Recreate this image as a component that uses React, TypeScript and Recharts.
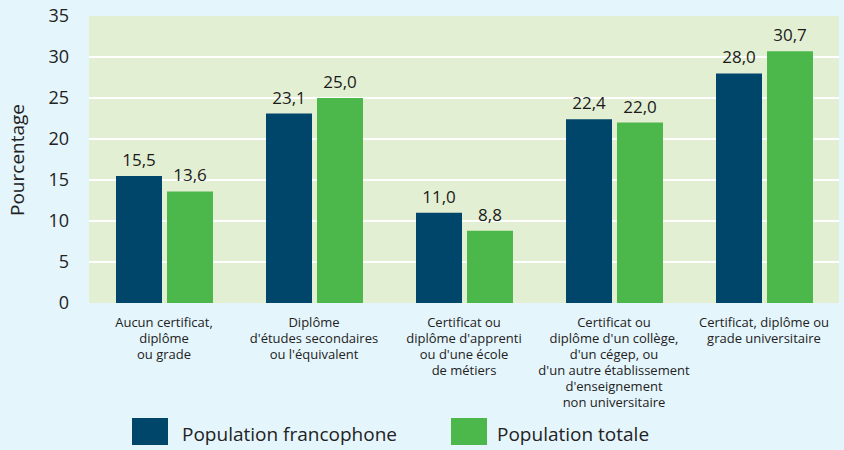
import * as React from "react";
import {
  BarChart,
  Bar,
  XAxis,
  YAxis,
  CartesianGrid,
  LabelList,
  Legend,
  Label,
} from "recharts";

const categories = ["aucun", "secondaire", "metiers", "college", "universitaire"];
const categoryLines = [
  ["Aucun certificat,", "diplôme", "ou grade"],
  ["Diplôme", "d'études secondaires", "ou l'équivalent"],
  ["Certificat ou", "diplôme d'apprenti", "ou d'une école", "de métiers"],
  [
    "Certificat ou",
    "diplôme d'un collège,",
    "d'un cégep, ou",
    "d'un autre établissement",
    "d'enseignement",
    "non universitaire",
  ],
  ["Certificat, diplôme ou", "grade universitaire"],
];
const francophone = [15.5, 23.1, 11.0, 22.4, 28.0];
const totale = [13.6, 25.0, 8.8, 22.0, 30.7];
const yTicks = [0, 5, 10, 15, 20, 25, 30, 35];

const DARK = "#00466b";
const GREEN = "#4cb84b";
const FONT = "'Open Sans', sans-serif";

const data = categories.map((c, i) => ({
  name: c,
  francophone: francophone[i],
  totale: totale[i],
}));

const fmt = (v: any) => Number(v).toFixed(1).replace(".", ",");

function CatTick(props: any) {
  const { x, y, index } = props;
  const lines = categoryLines[index] || [];
  return (
    <text x={x} y={y} textAnchor="middle" fontSize={13} fill="#222" fontFamily={FONT}>
      {lines.map((l, i) => (
        <tspan key={i} x={x} dy={i === 0 ? 16 : 16}>
          {l}
        </tspan>
      ))}
    </text>
  );
}

function LegendBox() {
  const sq = { position: "absolute" as const, top: 5, width: 36, height: 27 };
  const txt = {
    position: "absolute" as const,
    top: 8,
    fontSize: 19,
    color: "#222",
    fontFamily: FONT,
    lineHeight: "27px",
    whiteSpace: "nowrap" as const,
  };
  return (
    <div style={{ position: "relative", height: 32, width: 844 }}>
      <div style={{ ...sq, left: 132, background: DARK }} />
      <div style={{ ...txt, left: 182 }}>Population francophone</div>
      <div style={{ ...sq, left: 451, background: GREEN }} />
      <div style={{ ...txt, left: 497 }}>Population totale</div>
    </div>
  );
}

export default function App() {
  return (
    <div
      style={{
        position: "fixed",
        left: 0,
        top: 0,
        width: 844,
        height: 450,
        background: "#e5f5fc",
        fontFamily: FONT,
      }}
    >
      <BarChart
        width={844}
        height={450}
        data={data}
        margin={{ top: 16, right: 5, bottom: 5, left: 0 }}
        barCategoryGap="18%"
        barGap={5}
      >
        <CartesianGrid
          vertical={false}
          horizontalValues={[5, 10, 15, 20, 25, 30]}
          stroke="#ffffff"
          strokeWidth={2}
          fill="#e3efd3"
          fillOpacity={1}
        />
        <XAxis
          dataKey="name"
          height={110}
          axisLine={false}
          tickLine={false}
          interval={0}
          tick={(p: any) => <CatTick {...p} />}
        />
        <YAxis
          width={89}
          domain={[0, 35]}
          ticks={yTicks}
          axisLine={false}
          tickLine={false}
          tickMargin={14}
          tick={{ fontSize: 18, fill: "#222", fontFamily: FONT }}
        >
          <Label
            content={() => (
              <text
                x={17}
                y={160}
                transform="rotate(-90 17 160)"
                textAnchor="middle"
                dominantBaseline="central"
                fontSize={19}
                fill="#222"
                fontFamily={FONT}
              >
                Pourcentage
              </text>
            )}
          />
        </YAxis>
        <Legend verticalAlign="bottom" align="left" content={() => <LegendBox />} />
        <Bar dataKey="francophone" fill={DARK} isAnimationActive={false}>
          <LabelList
            dataKey="francophone"
            position="top"
            offset={10}
            formatter={fmt}
            style={{ fontSize: 17, fill: "#1a1a1a", fontFamily: FONT }}
          />
        </Bar>
        <Bar dataKey="totale" fill={GREEN} isAnimationActive={false}>
          <LabelList
            dataKey="totale"
            position="top"
            offset={10}
            formatter={fmt}
            style={{ fontSize: 17, fill: "#1a1a1a", fontFamily: FONT }}
          />
        </Bar>
      </BarChart>
    </div>
  );
}
